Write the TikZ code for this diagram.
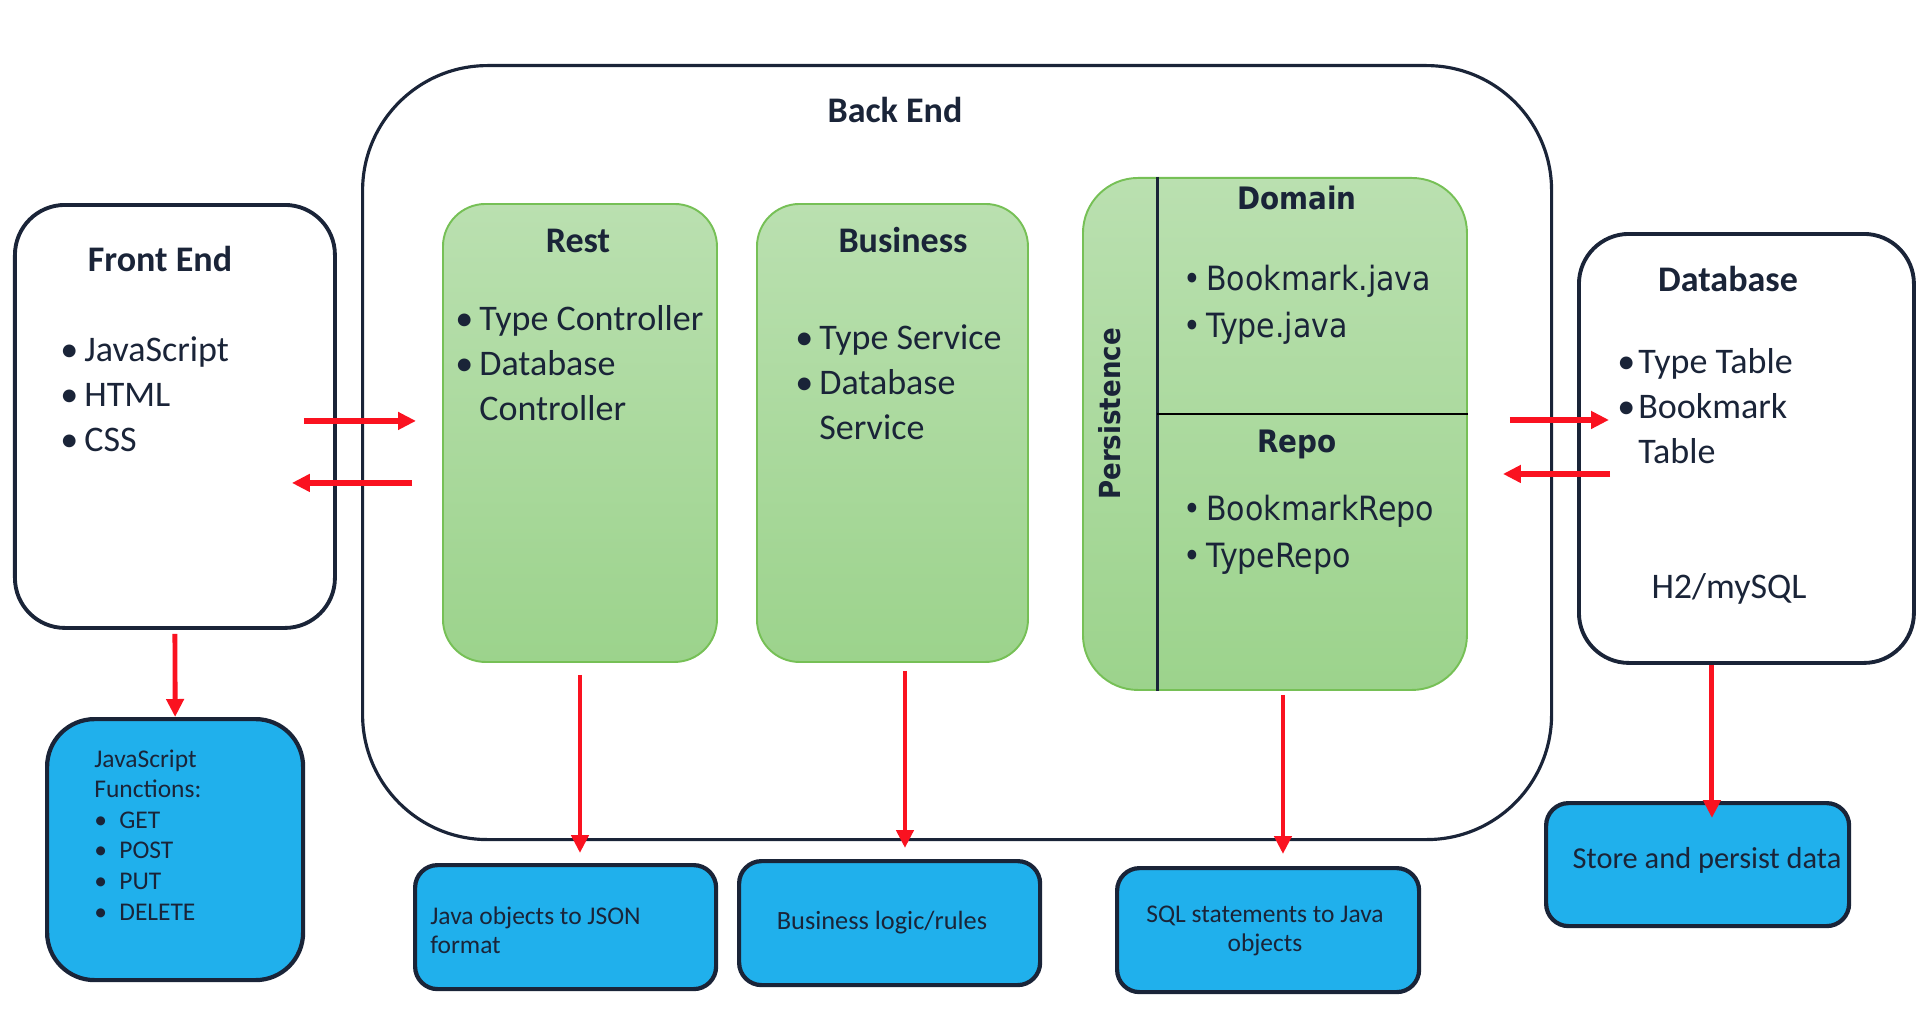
\documentclass[tikz,border=0pt]{standalone}
\usepackage{fontspec}
\setmainfont{Carlito}
\newfontfamily\verd[FakeStretch=0.9]{DejaVu Sans}
\usetikzlibrary{arrows.meta,positioning}
\definecolor{navy}{RGB}{26,36,56}
\definecolor{grtop}{RGB}{186,224,176}
\definecolor{grbot}{RGB}{156,211,140}
\definecolor{grline}{RGB}{118,192,86}
\definecolor{sky}{RGB}{32,176,236}
\definecolor{arrred}{RGB}{250,18,32}
\newcommand{\bul}[2][0.48cm]{\makebox[#1][l]{\textbullet}#2}
\newcommand{\cont}[2][0.48cm]{\hspace*{#1}#2}

\begin{document}
\begin{tikzpicture}[every node/.style={text=navy, inner sep=0pt},
    box/.style={draw=navy, line width=2.2pt, rounded corners=1cm, anchor=north west},
    layer/.style={draw=grline, line width=1.1pt, top color=grtop, bottom color=grbot, rounded corners=0.85cm, anchor=north west},
    note/.style={draw=navy, fill=sky, line width=2.4pt, rounded corners=0.45cm, anchor=north west},
    title/.style={font=\fontsize{20.5}{25.6}\selectfont\bfseries, anchor=base},
    items/.style={font=\fontsize{20.5}{25.6}\selectfont, align=left, anchor=base west},
    small/.style={font=\fontsize{14.5}{16.5}\selectfont, anchor=base},
    link/.style={draw=arrred, line width=2.8pt, -{Triangle[length=0.36cm,width=0.34cm]}},
    wide/.style={link, line width=3.4pt}]
    \useasboundingbox (0,0) rectangle (38.56,-20.64);
    % back end frame
    \node[box, line width=1.8pt, rounded corners=2.5cm, minimum width=23.78cm, minimum height=15.48cm] (be) at (7.22,-1.28) {};
    \node[title] (beT) at (17.9,-2.46) {Back End};

    % front end (lists are placed by their last line)
    \node[box, minimum width=6.4cm, minimum height=8.46cm] (fe) at (0.26,-4.06) {};
    \node[title] (feT) at (3.2,-5.42) {Front End};
    \node[items] (feL) at (1.2,-9.02) {\bul{JavaScript}\\\bul{HTML}\\\bul{CSS}};

    % layers
    \node[layer, minimum width=5.48cm, minimum height=9.16cm] (rest) at (8.84,-4.06) {};
    \node[title] (restT) at (11.56,-5.04) {Rest};
    \node[items] (restL) at (9.1,-8.4) {\bul{Type Controller}\\\bul{Database}\\\cont{Controller}};

    \node[layer, minimum width=5.42cm, minimum height=9.16cm] (bus) at (15.12,-4.06) {};
    \node[title] (busT) at (18.06,-5.04) {Business};
    \node[items] (busL) at (15.9,-8.78) {\bul{Type Service}\\\bul{Database}\\\cont{Service}};

    \node[layer, rounded corners=1.1cm, minimum width=7.68cm, minimum height=10.24cm] (pers) at (21.64,-3.54) {};
    \coordinate (vx) at (23.14,0);
    \coordinate (hy) at (0,-8.28);
    \draw[navy, line width=1.7pt] (pers.north -| vx) -- (pers.south -| vx);
    \draw[black, line width=1.7pt] (vx |- hy) -- (pers.east |- hy);
    \node[font=\verd\fontsize{16.5}{20}\selectfont\bfseries, rotate=90] (persT) at (22.2,-8.28) {Persistence};
    \node[font=\verd\fontsize{17.6}{20}\selectfont\bfseries, anchor=base] (domT) at (25.94,-4.2) {Domain};
    \node[items, font=\verd\fontsize{19}{26.2}\selectfont] (domL) at (23.66,-6.74) {\bul[0.46cm]{Bookmark.java}\\\bul[0.46cm]{Type.java}};
    \node[font=\verd\fontsize{17.6}{20}\selectfont\bfseries, anchor=base] (repT) at (25.94,-9.04) {Repo};
    \node[items, font=\verd\fontsize{19}{26.2}\selectfont] (repL) at (23.66,-11.34) {\bul[0.46cm]{BookmarkRepo}\\\bul[0.46cm]{TypeRepo}};

    % database
    \node[box, minimum width=6.7cm, minimum height=8.58cm] (db) at (31.54,-4.64) {};
    \node[title] (dbT) at (34.56,-5.82) {Database};
    \node[items] (dbL) at (32.34,-9.26) {\bul[0.42cm]{Type Table}\\\bul[0.42cm]{Bookmark}\\\cont[0.42cm]{Table}};
    \node[font=\fontsize{20.5}{25.6}\selectfont, anchor=base] (dbS) at (34.58,-11.96) {H2/mySQL};

    % notes
    \node[note, rounded corners=0.95cm, minimum width=5.12cm, minimum height=5.22cm] (jsf) at (0.9,-14.34) {};
    \node[small, align=left, anchor=base west, font=\fontsize{14.5}{17.4}\selectfont] (jsfL) at (1.88,-18.4)
        {JavaScript\\Functions:\\\bul[0.5cm]{GET}\\\bul[0.5cm]{POST}\\\bul[0.5cm]{PUT}\\\bul[0.5cm]{DELETE}};
    \node[note, minimum width=6.02cm, minimum height=2.48cm] (json) at (8.26,-17.26) {};
    \node[small, align=left, anchor=base west] (jsonL) at (8.6,-19.06) {Java objects to JSON\\format};
    \node[note, minimum width=6.02cm, minimum height=2.48cm] (rules) at (14.74,-17.18) {};
    \node[small, font=\fontsize{15}{17}\selectfont] (rulesL) at (17.64,-18.58) {Business logic/rules};
    \node[note, minimum width=6.04cm, minimum height=2.48cm] (sql) at (22.3,-17.32) {};
    \node[small, align=center] (sqlL) at (25.3,-19.02) {SQL statements to Java\\objects};
    \node[note, minimum width=6.06cm, minimum height=2.46cm] (store) at (30.88,-16.02) {};
    \node[small, font=\fontsize{17.3}{20}\selectfont] (storeL) at (34.14,-17.36) {Store and persist data};

    % connectors
    \draw[wide, shorten <=-0.66cm, shorten >=0.52cm] ([yshift=-0.09cm]fe.east) -- ([yshift=-0.09cm]fe.east -| rest.west);
    \draw[wide, shorten <=0.6cm, shorten >=-0.9cm] ([yshift=-1.33cm]fe.east -| rest.west) -- ([yshift=-1.33cm]fe.east);
    \draw[wide, shorten <=0.84cm, shorten >=-0.64cm] ([yshift=0.28cm]pers.east) -- ([yshift=0.28cm]pers.east -| db.west);
    \draw[wide, shorten <=-0.66cm, shorten >=0.7cm] ([yshift=-0.8cm]pers.east -| db.west) -- ([yshift=-0.8cm]pers.east);
    \draw[link, shorten <=0.08cm] (fe.south) -- (jsf.north);
    \draw[link, shorten <=0.24cm, shorten >=0.2cm] (rest.south) -- (rest.south |- json.north);
    \draw[link, shorten <=0.16cm, shorten >=0.22cm] ([xshift=0.25cm]bus.south) -- ([xshift=0.25cm]bus.south |- rules.north);
    \draw[link, shorten <=0.08cm, shorten >=0.24cm] ([xshift=0.16cm]pers.south) -- ([xshift=0.16cm]pers.south |- sql.north);
    \draw[link, shorten >=-0.34cm] ([xshift=-0.69cm]db.south) -- ([xshift=-0.69cm]db.south |- store.north);
\end{tikzpicture}
\end{document}
